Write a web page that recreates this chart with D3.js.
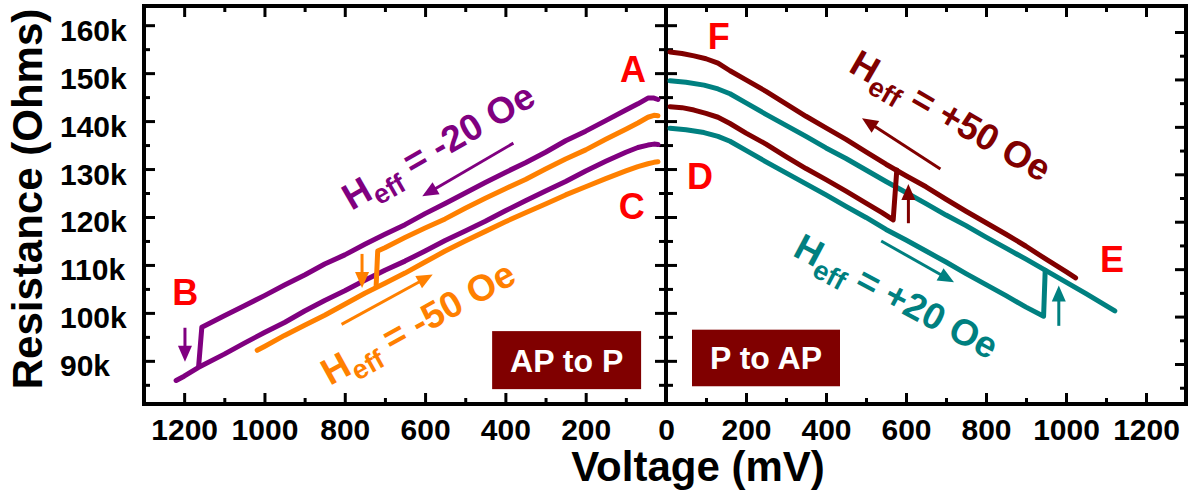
<!DOCTYPE html>
<html>
<head>
<meta charset="utf-8">
<script src="https://cdn.jsdelivr.net/npm/d3@7"></script>
<style>
  body { margin: 0; background: #fff; }
  svg { display: block; font-family: "Liberation Sans", Arial, sans-serif; font-weight: bold; }
</style>
</head>
<body>
<svg id="chart" width="1190" height="493"></svg>
<script>
// ---- data: [voltage mV, resistance kOhm], in sweep order ----
// AP to P, Heff = -20 Oe (purple): out on the AP branch, switch at ~1160 mV, back on P branch
const purpleOut = [[20,144.5],[30,144.8],[45,144.8],[70,143.6],[100,142.3],[150,140.1],[200,137.9],[250,135.9],
  [300,133.5],[350,131.3],[400,129.3],[450,127.2],[500,125.0],[550,122.8],[600,120.7],[650,118.4],[700,116.4],
  [750,114.3],[800,112.1],[850,110.2],[900,107.9],[950,105.8],[1000,103.6],[1050,101.5],[1100,99.4],[1156,97.0],[1164,88.8]];
const purpleBack = [[1220,85.9],[1200,86.8],[1165,88.6],[1100,91.4],[1050,93.7],[1000,95.9],[950,98.0],[900,100.4],
  [850,102.6],[800,104.6],[750,106.8],[700,108.9],[650,110.8],[600,112.9],[550,115.1],[500,117.1],[450,119.1],
  [400,121.3],[350,123.4],[300,125.4],[250,127.4],[200,129.6],[150,131.6],[100,133.5],[70,134.5],[45,135.0],[30,135.2],[20,135.1]];

// AP to P, Heff = -50 Oe (orange): switch at ~720 mV
const orangeOut = [[20,141.1],[30,141.2],[45,140.8],[70,139.6],[100,138.3],[150,136.2],[200,134.0],[250,132.1],
  [300,130.0],[350,127.8],[400,125.9],[450,123.9],[500,121.8],[550,119.6],[600,117.7],[650,115.7],[700,113.6],[718,112.9],[722,105.4]];
const orangeBack = [[1018,92.2],[1000,93.0],[950,95.3],[900,97.4],[850,99.5],[800,101.8],[750,104.1],[700,106.2],
  [650,108.3],[600,110.6],[550,112.9],[500,115.0],[450,117.0],[400,119.0],[350,120.9],[300,122.7],[250,124.6],
  [200,126.3],[150,128.0],[100,129.6],[70,130.5],[45,131.1],[30,131.4],[20,131.5]];

// P to AP, Heff = +50 Oe (dark red): switch at ~570 mV
const redOut = [[10,143.0],[40,142.8],[70,142.3],[100,141.6],[130,140.8],[160,139.5],[200,137.5],[250,135.2],
  [300,132.6],[350,130.1],[400,127.8],[450,125.4],[500,122.9],[540,120.9],[568,119.4],[577,129.8]];
const redBack = [[1024,107.3],[1000,108.6],[950,111.2],[900,113.9],[850,116.4],[800,118.8],[750,121.2],[700,123.7],
  [650,126.3],[600,128.6],[550,131.0],[500,133.6],[450,136.2],[400,138.6],[350,141.0],[300,143.6],[250,146.2],
  [200,148.6],[160,150.5],[130,152.1],[100,153.0],[70,153.6],[40,154.1],[10,154.4]];

// P to AP, Heff = +20 Oe (teal): switch at ~945 mV
const tealOut = [[10,138.5],[50,138.2],[95,137.6],[130,136.8],[160,135.8],[200,133.9],[250,131.5],[300,129.2],
  [350,126.9],[400,124.6],[450,122.2],[500,119.9],[550,117.4],[600,115.2],[650,112.9],[700,110.6],[750,108.2],
  [800,105.9],[850,103.6],[900,101.2],[944,99.3],[948,108.9]];
const tealBack = [[1122,100.4],[1100,101.5],[1050,104.0],[1000,106.4],[950,108.8],[900,111.2],[850,113.5],[800,115.8],
  [750,118.2],[700,120.4],[650,122.8],[600,125.1],[550,127.4],[500,129.8],[450,132.2],[400,134.4],[350,136.8],
  [300,139.1],[250,141.4],[200,143.8],[160,145.7],[130,146.7],[95,147.5],[50,148.1],[10,148.4]];

// ---- tick values ----
const xMajorLeft = [1200, 1000, 800, 600, 400, 200, 0];
const xMinorLeft = [1100, 900, 700, 500, 300, 100];
const xMajorRight = [0, 200, 400, 600, 800, 1000, 1200];
const xMinorRight = [100, 300, 500, 700, 900, 1100];
const xLabelsRight = [200, 400, 600, 800, 1000, 1200];
const yMajor = [90, 100, 110, 120, 130, 140, 150, 160];
const yMinor = [85, 95, 105, 115, 125, 135, 145, 155];

// ---- annotations (data coordinates) ----
const pointLabels = [
  { text: 'A', panel: 'L', v: 82, r: 148.2 },
  { text: 'C', panel: 'L', v: 85, r: 119.6 },
  { text: 'B', panel: 'L', v: 1197, r: 101.6 },
  { text: 'F', panel: 'R', v: 132, r: 155.0 },
  { text: 'D', panel: 'R', v: 85, r: 125.8 },
  { text: 'E', panel: 'R', v: 1115, r: 108.5 }
];
const fieldLabels = [
  { value: '= -20 Oe', panel: 'L', v: 579, r: 134.0, angle: -30, color: 'purple' },
  { value: '= -50 Oe', panel: 'L', v: 630, r: 97.2, angle: -29, color: 'orange' },
  { value: '= +50 Oe', panel: 'R', v: 698, r: 141.6, angle: 30, color: 'red' },
  { value: '= +20 Oe', panel: 'R', v: 562, r: 103.9, angle: 28, color: 'teal' }
];
const arrows = [
  { panel: 'L', from: [380, 135.4], to: [607, 124.3], color: 'purple' },
  { panel: 'L', from: [808, 97.6], to: [581, 108.0], color: 'orange' },
  { panel: 'R', from: [686, 130.0], to: [490, 140.6], color: 'red' },
  { panel: 'R', from: [538, 115.0], to: [720, 106.4], color: 'teal' },
  { panel: 'L', from: [1198, 96.9], to: [1198, 89.8], color: 'purple' },
  { panel: 'L', from: [757, 112.3], to: [757, 105.2], color: 'orange' },
  { panel: 'R', from: [606, 118.7], to: [606, 126.9], color: 'red' },
  { panel: 'R', from: [982, 97.3], to: [982, 105.7], color: 'teal' }
];
const boxes = [
  { text: 'AP to P', panel: 'L', v0: 433, v1: 62, r0: 96.2, r1: 84.1 },
  { text: 'P to AP', panel: 'R', v0: 65, v1: 435, r0: 96.5, r1: 84.7 }
];

const colors = { purple: '#800080', orange: '#ff8000', red: '#800000', teal: '#008080' };

// ---- layout ----
const frame = { left: 144, mid: 666, right: 1186, top: 6, bottom: 404 };
const svg = d3.select('#chart');

const xLeft = d3.scaleLinear().domain([1300, 0]).range([frame.left, frame.mid]);
const xRight = d3.scaleLinear().domain([0, 1300]).range([frame.mid, frame.right]);
const y = d3.scaleLinear().domain([81, 164]).range([frame.bottom, frame.top]);
// the right-hand frame carries its own (unlabelled) scale
const yOuter = d3.scaleLinear().domain([81.57, 165.48]).range([frame.bottom, frame.top]);
const xOf = p => (p === 'L' ? xLeft : xRight);

// ---- ticks ----
function tickGroup(axis, tx, ty) {
  const g = svg.append('g').attr('transform', `translate(${tx},${ty})`).call(axis);
  g.select('.domain').remove();
  g.selectAll('line').attr('stroke', '#000').attr('stroke-width', 3);
  g.attr('font-family', null).attr('font-size', null);
  return g;
}

// bottom + top, left panel
const bl = tickGroup(d3.axisBottom(xLeft).tickValues(xMajorLeft).tickSize(-11).tickFormat(d => d), 0, frame.bottom);
bl.selectAll('text').attr('y', 36).attr('dy', null).attr('font-size', 30).attr('fill', '#000');
tickGroup(d3.axisBottom(xLeft).tickValues(xMinorLeft).tickSize(-6).tickFormat(''), 0, frame.bottom);
tickGroup(d3.axisTop(xLeft).tickValues(xMajorLeft).tickSize(-11).tickFormat(''), 0, frame.top);
tickGroup(d3.axisTop(xLeft).tickValues(xMinorLeft).tickSize(-6).tickFormat(''), 0, frame.top);

// bottom + top, right panel
const br = tickGroup(d3.axisBottom(xRight).tickValues(xMajorRight).tickSize(-11)
  .tickFormat(d => (xLabelsRight.includes(d) ? d : '')), 0, frame.bottom);
br.selectAll('text').attr('y', 36).attr('dy', null).attr('font-size', 30).attr('fill', '#000');
tickGroup(d3.axisBottom(xRight).tickValues(xMinorRight).tickSize(-6).tickFormat(''), 0, frame.bottom);
tickGroup(d3.axisTop(xRight).tickValues(xMajorRight).tickSize(-11).tickFormat(''), 0, frame.top);
tickGroup(d3.axisTop(xRight).tickValues(xMinorRight).tickSize(-6).tickFormat(''), 0, frame.top);

// left y axis, labels left aligned
const yl = tickGroup(d3.axisLeft(y).tickValues(yMajor).tickSize(-11).tickFormat(d => d + 'k'), frame.left, 0);
yl.selectAll('text').attr('x', 60 - frame.left).attr('y', 15).attr('dy', null)
  .attr('text-anchor', 'start').attr('font-size', 30).attr('fill', '#000');
tickGroup(d3.axisLeft(y).tickValues(yMinor).tickSize(-6).tickFormat(''), frame.left, 0);

// divider: ticks on both sides
tickGroup(d3.axisLeft(y).tickValues(yMajor).tickSize(11).tickFormat(''), frame.mid, 0);
tickGroup(d3.axisRight(y).tickValues(yMajor).tickSize(11).tickFormat(''), frame.mid, 0);
tickGroup(d3.axisLeft(y).tickValues(yMinor).tickSize(7).tickFormat(''), frame.mid, 0);
tickGroup(d3.axisRight(y).tickValues(yMinor).tickSize(7).tickFormat(''), frame.mid, 0);

// right frame
tickGroup(d3.axisRight(yOuter).tickValues(yMajor).tickSize(-11).tickFormat(''), frame.right, 0);
tickGroup(d3.axisRight(yOuter).tickValues(yMinor).tickSize(-6).tickFormat(''), frame.right, 0);

// frame lines
svg.append('rect')
  .attr('x', frame.left).attr('y', frame.top)
  .attr('width', frame.right - frame.left).attr('height', frame.bottom - frame.top)
  .attr('fill', 'none').attr('stroke', '#000').attr('stroke-width', 4);
svg.append('line')
  .attr('x1', frame.mid).attr('x2', frame.mid).attr('y1', frame.top).attr('y2', frame.bottom)
  .attr('stroke', '#000').attr('stroke-width', 4);

// ---- curves ----
const series = [
  { panel: 'L', data: purpleOut, color: 'purple' },
  { panel: 'L', data: purpleBack, color: 'purple' },
  { panel: 'L', data: orangeOut, color: 'orange' },
  { panel: 'L', data: orangeBack, color: 'orange' },
  { panel: 'R', data: tealOut, color: 'teal' },
  { panel: 'R', data: tealBack, color: 'teal' },
  { panel: 'R', data: redOut, color: 'red' },
  { panel: 'R', data: redBack, color: 'red' }
];

svg.append('g').attr('class', 'curves')
  .selectAll('path')
  .data(series)
  .join('path')
  .attr('d', s => d3.line().x(d => xOf(s.panel)(d[0])).y(d => y(d[1]))(s.data))
  .attr('fill', 'none')
  .attr('stroke', s => colors[s.color])
  .attr('stroke-width', 5)
  .attr('stroke-linejoin', 'round')
  .attr('stroke-linecap', 'round');

// ---- arrows ----
const arrowG = svg.append('g').attr('class', 'arrows');
arrows.forEach(a => {
  const xs = xOf(a.panel);
  const x0 = xs(a.from[0]), y0 = y(a.from[1]), x1 = xs(a.to[0]), y1 = y(a.to[1]);
  const len = Math.hypot(x1 - x0, y1 - y0);
  const ux = (x1 - x0) / len, uy = (y1 - y0) / len;
  const headLen = 16, headW = 14;
  const bx = x1 - ux * headLen, by = y1 - uy * headLen;
  arrowG.append('line')
    .attr('x1', x0).attr('y1', y0).attr('x2', bx + ux * 2).attr('y2', by + uy * 2)
    .attr('stroke', colors[a.color]).attr('stroke-width', 3);
  arrowG.append('path')
    .attr('d', `M${x1},${y1}L${bx - uy * headW / 2},${by + ux * headW / 2}L${bx + uy * headW / 2},${by - ux * headW / 2}Z`)
    .attr('fill', colors[a.color]);
});

// ---- field labels (rotated, with subscript) ----
fieldLabels.forEach(f => {
  const t = svg.append('text')
    .attr('transform', `translate(${xOf(f.panel)(f.v)},${y(f.r)}) rotate(${f.angle})`)
    .attr('text-anchor', 'middle')
    .attr('font-size', 37)
    .attr('fill', colors[f.color]);
  t.append('tspan').attr('dx', 6).attr('dy', 12).text('H');
  t.append('tspan').attr('font-size', 27).attr('dy', 9).text('eff');
  t.append('tspan').attr('dy', -9).text(' ' + f.value);
});

// ---- point labels ----
svg.append('g').selectAll('text')
  .data(pointLabels)
  .join('text')
  .attr('x', d => xOf(d.panel)(d.v))
  .attr('y', d => y(d.r))
  .attr('text-anchor', 'middle')
  .attr('font-size', 36)
  .attr('fill', '#ff0000')
  .text(d => d.text);

// ---- boxes ----
boxes.forEach(b => {
  const xs = xOf(b.panel);
  const xa = Math.min(xs(b.v0), xs(b.v1)), xb = Math.max(xs(b.v0), xs(b.v1));
  const ya = y(b.r0), yb = y(b.r1);
  svg.append('rect')
    .attr('x', xa).attr('y', ya).attr('width', xb - xa).attr('height', yb - ya)
    .attr('fill', '#800000');
  svg.append('text')
    .attr('x', (xa + xb) / 2).attr('y', (ya + yb) / 2 + 11.5)
    .attr('text-anchor', 'middle')
    .attr('font-size', 32)
    .attr('fill', '#fff')
    .text(b.text);
});

// ---- axis titles ----
svg.append('text')
  .attr('transform', `translate(42,199) rotate(-90)`)
  .attr('text-anchor', 'middle')
  .attr('font-size', 42)
  .text('Resistance (Ohms)');
svg.append('text')
  .attr('x', 698).attr('y', 481)
  .attr('text-anchor', 'middle')
  .attr('font-size', 42)
  .text('Voltage (mV)');
</script>
</body>
</html>
